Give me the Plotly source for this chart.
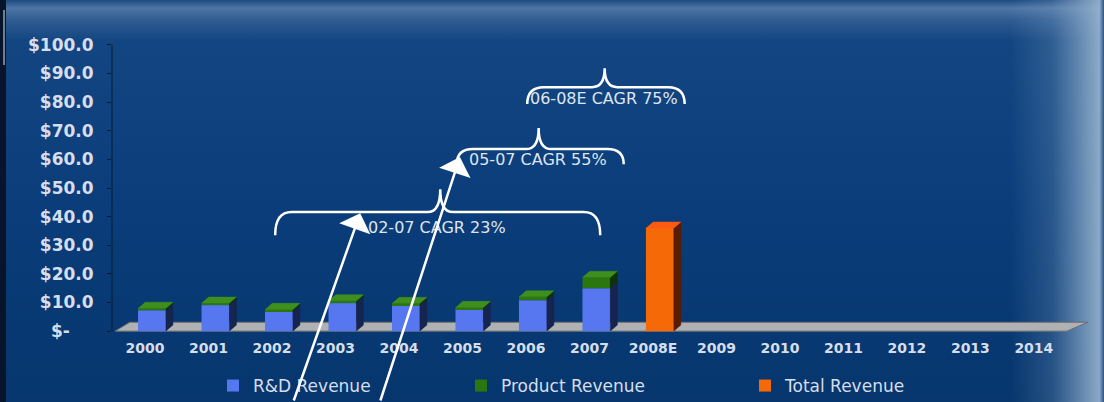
import base64
import plotly.graph_objects as go

# ---- data -------------------------------------------------------------
years = ["2000", "2001", "2002", "2003", "2004", "2005", "2006", "2007",
         "2008E", "2009", "2010", "2011", "2012", "2013", "2014"]
rd_revenue = [7.3, 9.1, 7.0, 9.8, 9.1, 7.7, 10.8, 15.0,
              None, None, None, None, None, None, None]
product_revenue = [0.7, 0.7, 0.6, 0.8, 0.6, 0.6, 1.2, 3.8,
                   None, None, None, None, None, None, None]
total_revenue = [None, None, None, None, None, None, None, None,
                 36.0, None, None, None, None, None, None]

y_ticks = [0, 10, 20, 30, 40, 50, 60, 70, 80, 90, 100]
y_tick_text = ["$-\u00a0\u00a0\u00a0\u00a0", "$10.0", "$20.0", "$30.0", "$40.0", "$50.0",
               "$60.0", "$70.0", "$80.0", "$90.0", "$100.0"]

# CAGR brackets: (label, first category, last category, peak category,
#                 bracket line level, end level, peak level, text x, text y)
cagr_brackets = [
    ("02-07 CAGR 23%", 2.05, 7.17, 4.65, 41.6, 33.5, 49.6, 4.6, 36.3),
    ("05-07 CAGR 55%", 4.91, 7.54, 6.20, 63.6, 58.3, 71.0, 6.19, 60.1),
    ("06-08E CAGR 75%", 6.02, 8.50, 7.24, 85.2, 79.3, 91.8, 7.23, 81.4),
]

# ---- styling ----------------------------------------------------------
TEXT = "#d6deeb"
FONT = "DejaVu Sans"
BAR_W = 0.44          # front face width (category units)
BAR_OFF = -0.11       # front face left edge relative to category
DX, DY = 0.11, 2.1    # 3-D depth offset (category units, value units)

C_RD, C_RD_SIDE = "#5677f0", "#16254f"
C_PR, C_PR_SIDE, C_PR_TOP = "#2b760f", "#0f3206", "#3f8f1c"
C_TO, C_TO_SIDE, C_TO_TOP = "#f56a06", "#5a1c02", "#ff5a14"

x_idx = list(range(len(years)))

fig = go.Figure()

fig.add_trace(go.Bar(x=x_idx, y=rd_revenue, base=0, width=BAR_W, offset=BAR_OFF,
                     marker=dict(color=C_RD, line=dict(width=0)),
                     name="R&D Revenue", legend="legend"))
rd_base = [v if v is not None else 0 for v in rd_revenue]
fig.add_trace(go.Bar(x=x_idx, y=product_revenue, base=rd_base, width=BAR_W, offset=BAR_OFF,
                     marker=dict(color=C_PR, line=dict(width=0)),
                     name="Product Revenue", legend="legend2"))
fig.add_trace(go.Bar(x=x_idx, y=total_revenue, base=0, width=BAR_W, offset=BAR_OFF,
                     marker=dict(color=C_TO, line=dict(width=0)),
                     name="Total Revenue", legend="legend3"))


def side_face(i, lo, hi):
    x1 = i + BAR_OFF + BAR_W
    return [x1, x1, x1 + DX, x1 + DX, None], [lo, hi, hi + DY, lo + DY, None]


def top_face(i, h):
    x0 = i + BAR_OFF
    x1 = x0 + BAR_W
    return [x0, x1, x1 + DX, x0 + DX, None], [h, h, h + DY, h + DY, None]


def add_faces(xs, ys, color):
    fig.add_trace(go.Scatter(x=xs, y=ys, mode="lines", fill="toself",
                             fillcolor=color, line=dict(width=0.5, color=color),
                             hoverinfo="skip", showlegend=False))


# side and top faces derived from the series values
sx, sy, px_, py_, tx, ty = [], [], [], [], [], []
for i, (rd, pr) in enumerate(zip(rd_revenue, product_revenue)):
    if rd is None:
        continue
    a, b = side_face(i, 0, rd)
    sx += a; sy += b
    a, b = side_face(i, rd, rd + pr)
    px_ += a; py_ += b
    a, b = top_face(i, rd + pr)
    tx += a; ty += b
add_faces(sx, sy, C_RD_SIDE)
add_faces(px_, py_, C_PR_SIDE)
add_faces(tx, ty, C_PR_TOP)

ox, oy, otx, oty = [], [], [], []
for i, t in enumerate(total_revenue):
    if t is None:
        continue
    a, b = side_face(i, 0, t)
    ox += a; oy += b
    a, b = top_face(i, t)
    otx += a; oty += b
add_faces(ox, oy, C_TO_SIDE)
add_faces(otx, oty, C_TO_TOP)

# ---- floor, axis line, brackets --------------------------------------
n = len(years)
shapes = [
    dict(type="path", xref="x", yref="y", layer="below",
         path=f"M -0.47,0 L {n - 0.48},0 L {n - 0.15},3.1 L -0.24,3.1 Z",
         fillcolor="#b0b1b3", line=dict(color="#6c6e72", width=1)),
    dict(type="line", xref="paper", yref="y", x0=0, x1=0, y0=0, y1=100,
         line=dict(color="#0b1a33", width=1)),
]


def bracket_path(x0, x1, xm, yl, ye, yp, r=0.26, rm=0.2):
    return (f"M {x0},{ye} Q {x0},{yl} {x0 + r},{yl} L {xm - rm},{yl} "
            f"Q {xm},{yl} {xm},{yp} Q {xm},{yl} {xm + rm},{yl} "
            f"L {x1 - r},{yl} Q {x1},{yl} {x1},{ye}")


annotations = []
for label, x0, x1, xm, yl, ye, yp, lx, ly in cagr_brackets:
    shapes.append(dict(type="path", xref="x", yref="y",
                       path=bracket_path(x0, x1, xm, yl, ye, yp),
                       line=dict(color="white", width=2.5)))
    annotations.append(dict(x=lx, y=ly, xref="x", yref="y", text=label,
                            showarrow=False,
                            font=dict(family=FONT, size=16, color="#dfe5ee")))

# growth arrows
for tip_x, tip_y, ax, ay in [(3.39, 41.2, -67, 189), (4.96, 60.8, -80, 245)]:
    annotations.append(dict(x=tip_x, y=tip_y, xref="x", yref="y", text="",
                            showarrow=True, ax=ax, ay=ay, arrowhead=1,
                            arrowsize=2.2, arrowwidth=2.5, arrowcolor="white",
                            standoff=0))

# ---- background -------------------------------------------------------
svg = """<svg xmlns="http://www.w3.org/2000/svg" width="1104" height="402" viewBox="0 0 1104 402" preserveAspectRatio="none">
<defs>
<linearGradient id="v" x1="0" y1="0" x2="0" y2="1">
<stop offset="0" stop-color="#1d4a80"/>
<stop offset="0.02" stop-color="#4e76a4"/>
<stop offset="0.05" stop-color="#2f5c92"/>
<stop offset="0.1" stop-color="#134681"/>
<stop offset="0.5" stop-color="#0a3d7a"/>
<stop offset="1" stop-color="#06366d"/>
</linearGradient>
<linearGradient id="h" x1="0" y1="0" x2="1" y2="0">
<stop offset="0" stop-color="#86a6c8" stop-opacity="0"/>
<stop offset="0.45" stop-color="#86a6c8" stop-opacity="0.25"/>
<stop offset="0.8" stop-color="#8eacca" stop-opacity="0.75"/>
<stop offset="0.95" stop-color="#9ab5d0" stop-opacity="0.9"/>
<stop offset="1" stop-color="#2a5284" stop-opacity="1"/>
</linearGradient>
</defs>
<rect width="1104" height="402" fill="url(#v)"/>
<rect x="1010" y="0" width="94" height="402" fill="url(#h)"/>
<rect x="0" y="0" width="6" height="402" fill="#07152c"/>
<rect x="3" y="10" width="2" height="55" fill="#6f7f90"/>
</svg>"""
bg_src = "data:image/svg+xml;base64," + base64.b64encode(svg.encode()).decode()

W, H = 1104, 402
ML, MR, MT, MB = 112, 13, 42, 68
PW, PH = W - ML - MR, H - MT - MB

# legend entries are placed in container pixels so they never push the margins
legend_common = dict(orientation="h", yanchor="middle", xanchor="left",
                     xref="container", yref="container",
                     y=1 - 386 / H, bgcolor="rgba(0,0,0,0)", itemwidth=30,
                     font=dict(family=FONT, size=17, color=TEXT))

fig.update_layout(
    width=W, height=H,
    margin=dict(l=ML, r=MR, t=MT, b=MB, autoexpand=False),
    paper_bgcolor="#0a3d7a", plot_bgcolor="rgba(0,0,0,0)",
    barmode="overlay",
    images=[dict(source=bg_src, xref="paper", yref="paper",
                 x=-ML / PW, y=1 + MT / PH, sizex=W / PW, sizey=H / PH,
                 xanchor="left", yanchor="top", sizing="stretch", layer="below")],
    xaxis=dict(range=[-0.52, n - 0.1], tickvals=x_idx, ticktext=years,
               showgrid=False, zeroline=False, showline=False, ticks="",
               ticklabelstandoff=4,
               tickfont=dict(family=FONT, size=14, color=TEXT, weight="bold")),
    yaxis=dict(range=[-1, 101], tickvals=y_ticks, ticktext=y_tick_text,
               showgrid=False, zeroline=False, showline=False,
               ticks="outside", ticklen=4, tickcolor="#0b1a33",
               ticklabelstandoff=10,
               tickfont=dict(family=FONT, size=17, color=TEXT, weight="bold")),
    legend=dict(legend_common, x=213 / W),
    legend2=dict(legend_common, x=461 / W),
    legend3=dict(legend_common, x=745 / W),
    shapes=shapes,
    annotations=annotations,
    showlegend=True,
)

fig.write_html("out.html")
